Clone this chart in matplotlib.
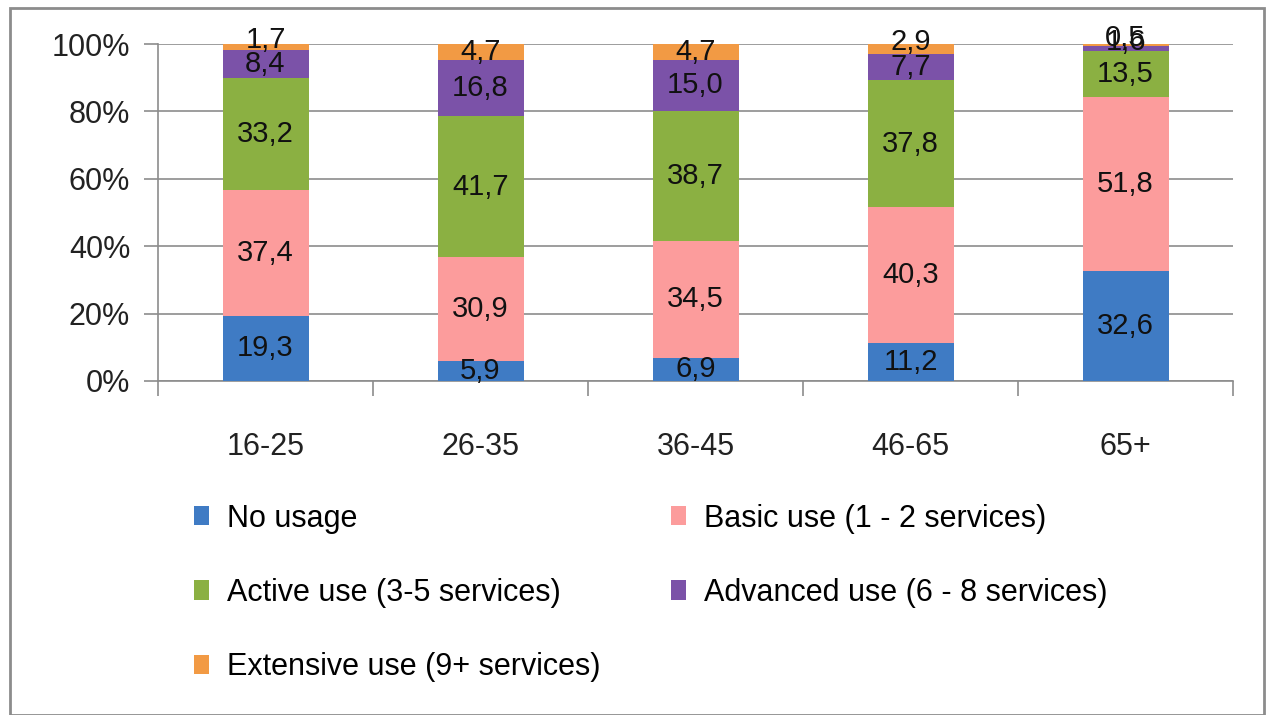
import numpy as np
import matplotlib.pyplot as plt
from matplotlib.patches import Rectangle

plt.rcParams['font.family'] = ['Liberation Sans', 'DejaVu Sans']

# Age groups and share of each usage level (%)
categories = ['16-25', '26-35', '36-45', '46-65', '65+']
series_names = ['No usage', 'Basic use (1 - 2 services)', 'Active use (3-5 services)',
                'Advanced use (6 - 8 services)', 'Extensive use (9+ services)']
no_usage = [19.3, 5.9, 6.9, 11.2, 32.6]
basic_use = [37.4, 30.9, 34.5, 40.3, 51.8]
active_use = [33.2, 41.7, 38.7, 37.8, 13.5]
advanced_use = [8.4, 16.8, 15.0, 7.7, 1.6]
extensive_use = [1.7, 4.7, 4.7, 2.9, 0.5]
colors = ['#3f7bc4', '#fc9c9c', '#8bb042', '#7b52a8', '#f29a44']

series = [no_usage, basic_use, active_use, advanced_use, extensive_use]
data = np.array(series)
pct = data / data.sum(axis=0) * 100

fig = plt.figure(figsize=(12.75, 7.15), dpi=100)
ax = fig.add_axes([158 / 1275, 1 - 381 / 715, (1233 - 158) / 1275, (381 - 44) / 715])

x = np.arange(len(categories))
bottom = np.zeros(len(categories))
handles = []
for name, vals, raw, col in zip(series_names, pct, series, colors):
    bars = ax.bar(x, vals, 0.4, bottom=bottom, color=col, edgecolor='none', zorder=3)
    handles.append(bars)
    for xi, b, v, r in zip(x, bottom, vals, raw):
        # tiny top segments: label sits a bit higher, like the reference
        yy = b + v / 2 + (2 if v < 3 else 0)
        ax.text(xi, yy, f'{r:.1f}'.replace('.', ','), ha='center', va='center',
                fontsize=21, color='#111111', zorder=5)
    bottom += vals

ax.set_xlim(-0.5, len(categories) - 0.5)
ax.set_ylim(0, 100)
ax.set_yticks(np.arange(0, 101, 20))
ax.set_yticklabels([f'{v}%' for v in range(0, 101, 20)], fontsize=22, color='#222222')
ax.yaxis.grid(True, color='#8c8c8c', linewidth=1.2, zorder=0)
ax.set_xticks(x)
ax.set_xticklabels(categories, fontsize=22, color='#222222')
ax.set_xticks(np.arange(-0.5, len(categories), 1), minor=True)
ax.tick_params(axis='x', which='major', length=0, pad=37)
ax.tick_params(axis='x', which='minor', length=11, color='#8c8c8c', width=1.2)
ax.tick_params(axis='y', length=10, color='#8c8c8c', width=1.2, pad=10)
ax.set_clip_on(False)
for s in ['top', 'right']:
    ax.spines[s].set_visible(False)
for s in ['left', 'bottom']:
    ax.spines[s].set_color('#8c8c8c')
    ax.spines[s].set_linewidth(1.2)

# legend is filled row by row in the reference
order = [0, 2, 4, 1, 3]
fig.legend([handles[i] for i in order], [series_names[i] for i in order], loc='upper left',
           bbox_to_anchor=(166 / 1275, 1 - 476 / 715), ncol=2, frameon=False, fontsize=22,
           handlelength=0.5, handleheight=0.6, handletextpad=0.6, columnspacing=2.3,
           labelspacing=1.45)

fig.patches.append(Rectangle((10 / 1275, 0), (1264 - 10) / 1275, 1 - 8 / 715, transform=fig.transFigure,
                             fill=False, edgecolor='#8c8c8c', linewidth=2))

fig.savefig('out.png', dpi=100)
